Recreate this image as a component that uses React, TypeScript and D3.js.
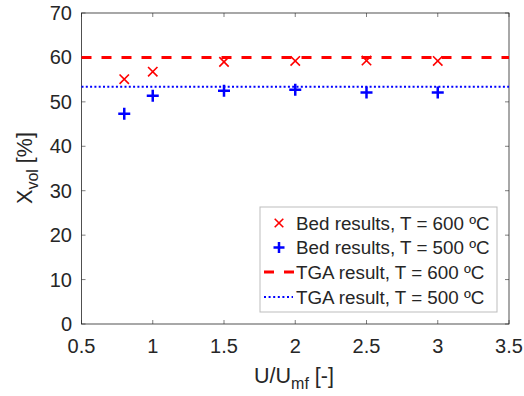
import React from "react";
import * as d3 from "d3";

const uRatio = [0.8, 1, 1.5, 2, 2.5, 3];
const bed600 = [55.1, 56.8, 59.0, 59.2, 59.3, 59.2];
const bed500 = [47.3, 51.4, 52.5, 52.7, 52.1, 52.1];
const tga600 = 60;
const tga500 = 53.4;
const xTicks = [0.5, 1, 1.5, 2, 2.5, 3, 3.5];
const yTicks = [0, 10, 20, 30, 40, 50, 60, 70];
const legendLabels = [
  "Bed results, T = 600 ºC",
  "Bed results, T = 500 ºC",
  "TGA result, T = 600 ºC",
  "TGA result, T = 500 ºC",
];

const W = 524, H = 396;
const L = 81.5, R = 509, T = 13, B = 324;
const font = "'Liberation Sans', Arial, sans-serif";
const axisC = "#262626";

export default function App() {
  const x = d3.scaleLinear().domain([0.5, 3.5]).range([L, R]);
  const y = d3.scaleLinear().domain([0, 70]).range([B, T]);
  const cross = (cx: number, cy: number, s = 4.7) =>
    `M${cx - s},${cy - s}L${cx + s},${cy + s}M${cx - s},${cy + s}L${cx + s},${cy - s}`;
  const plus = (cx: number, cy: number, s = 6) =>
    `M${cx - s},${cy}L${cx + s},${cy}M${cx},${cy - s}L${cx},${cy + s}`;
  const lx = 260, ly = 207, lw = 237, lh = 105;
  const rows = [223, 247.5, 272, 297];
  return (
    <svg width={W} height={H} style={{ position: "absolute", left: 0, top: 0 }}>
      <rect width={W} height={H} fill="#fff" />
      {xTicks.map((t) => (
        <g key={"x" + t}>
          <line x1={x(t)} x2={x(t)} y1={B} y2={B - 4} stroke={axisC} strokeWidth={0.6} />
          <line x1={x(t)} x2={x(t)} y1={T} y2={T + 4} stroke={axisC} strokeWidth={0.6} />
          <text x={x(t)} y={B + 29} textAnchor="middle" fontFamily={font} fontSize={20} fill={axisC}>
            {t}
          </text>
        </g>
      ))}
      {yTicks.map((t) => (
        <g key={"y" + t}>
          <line x1={L} x2={L + 4} y1={y(t)} y2={y(t)} stroke={axisC} strokeWidth={0.6} />
          <line x1={R} x2={R - 4} y1={y(t)} y2={y(t)} stroke={axisC} strokeWidth={0.6} />
          <text x={L - 9.5} y={y(t) + 7} textAnchor="end" fontFamily={font} fontSize={20} fill={axisC}>
            {t}
          </text>
        </g>
      ))}
      <rect x={L} y={T} width={R - L} height={B - T} fill="none" stroke={axisC} strokeWidth={0.8} />
      <line x1={L} x2={R} y1={y(tga600)} y2={y(tga600)} stroke="#ff0000" strokeWidth={3} strokeDasharray="10,10" />
      <line x1={L} x2={R} y1={y(tga500)} y2={y(tga500)} stroke="#0000ff" strokeWidth={2.2} strokeDasharray="2,2.3" />
      {uRatio.map((u, i) => (
        <path key={"r" + i} d={cross(x(u), y(bed600[i]))} stroke="#ff0000" strokeWidth={1.6} fill="none" />
      ))}
      {uRatio.map((u, i) => (
        <path key={"b" + i} d={plus(x(u), y(bed500[i]))} stroke="#0000ff" strokeWidth={2.5} fill="none" />
      ))}
      <rect x={lx} y={ly} width={lw} height={lh} fill="#fff" stroke="#bdbdbd" strokeWidth={1} />
      <path d={cross(279, rows[0], 4.3)} stroke="#ff0000" strokeWidth={1.6} fill="none" />
      <path d={plus(279, rows[1], 5.5)} stroke="#0000ff" strokeWidth={2.5} fill="none" />
      <line x1={264} x2={294} y1={rows[2]} y2={rows[2]} stroke="#ff0000" strokeWidth={3} strokeDasharray="10,10" />
      <line x1={264} x2={293} y1={rows[3]} y2={rows[3]} stroke="#0000ff" strokeWidth={2.2} strokeDasharray="2,2.6" />
      {legendLabels.map((s, i) => (
        <text key={s} x={296} y={rows[i] + 6.5} fontFamily={font} fontSize={18.8} fill={axisC}>
          {s}
        </text>
      ))}
      <text x={294} y={383} textAnchor="middle" fontFamily={font} fontSize={21.5} fill={axisC}>
        U/U<tspan fontSize={16} dy={6}>mf</tspan>
        <tspan dy={-6}> [-]</tspan>
      </text>
      <text
        transform={`translate(32,168) rotate(-90)`}
        textAnchor="middle"
        fontFamily={font}
        fontSize={21.5}
        fill={axisC}
      >
        X<tspan fontSize={16} dy={6}>vol</tspan>
        <tspan dy={-6}> [%]</tspan>
      </text>
    </svg>
  );
}
